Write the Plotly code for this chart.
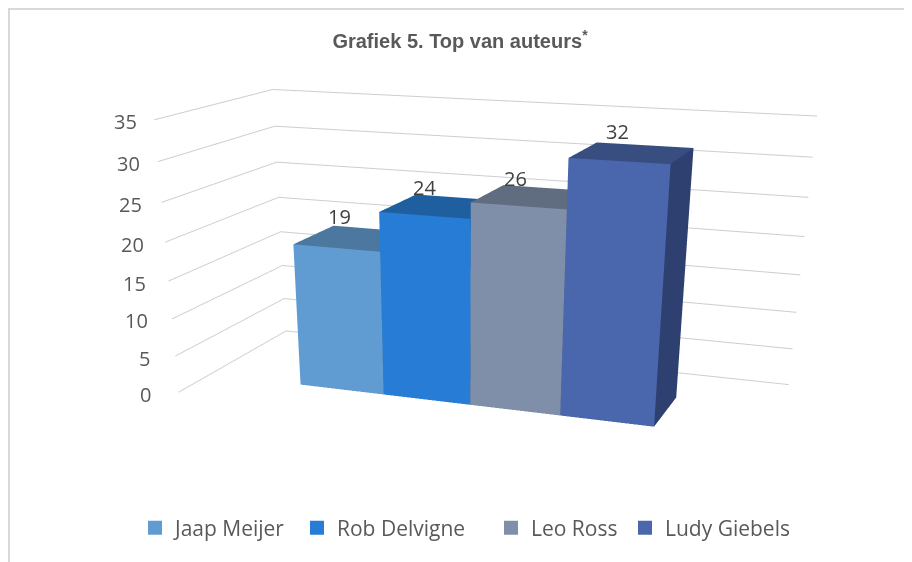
import plotly.graph_objects as go

title = "Grafiek 5. Top van auteurs<sup>*</sup>"
authors = ["Jaap Meijer", "Rob Delvigne", "Leo Ross", "Ludy Giebels"]
values = [19, 24, 26, 32]
ticks = [0, 5, 10, 15, 20, 25, 30, 35]
front_colors = ["#609CD2", "#277DD5", "#7F8FA9", "#4A66AD"]
top_colors = ["#4C78A0", "#1F5FA0", "#606C80", "#384D80"]
side_colors = ["#3F6A90", "#1A5490", "#525D70", "#2E4070"]
label_offset = [0.07, 0.10, 0.13, 0.22]
label_yshift = [10, 8, 7, 12]
legend_x = [135, 297, 491, 625]

# page layout: the figure is taller than the window so that the 3D view has a long focal length
Wt, Ht = 904, 1200
# scene calibration
bar_start, bar_width = 0.1819, 0.1615
depth_front, depth_back = 0.2729, 0.6599
x_range = [-bar_start / bar_width, (1 - bar_start) / bar_width]
y_range = [0, 1]
z_range = [0, 35]

fig = go.Figure()
legend_names = ["legend2", "legend3", "legend4", "legend5"]
for i, v in enumerate(values):
    x0, x1 = i, i + 1
    y0, y1 = depth_front, depth_back
    xs = [x0, x1, x1, x0, x0, x1, x1, x0]
    ys = [y0, y0, y1, y1, y0, y0, y1, y1]
    zs = [0, 0, 0, 0, v, v, v, v]
    faces = [
        (0, 1, 5, front_colors[i]), (0, 5, 4, front_colors[i]),
        (4, 5, 6, top_colors[i]), (4, 6, 7, top_colors[i]),
        (1, 2, 6, side_colors[i]), (1, 6, 5, side_colors[i]),
    ]
    fig.add_trace(go.Mesh3d(
        x=xs, y=ys, z=zs,
        i=[f[0] for f in faces], j=[f[1] for f in faces], k=[f[2] for f in faces],
        facecolor=[f[3] for f in faces], flatshading=True,
        lighting=dict(ambient=1, diffuse=0, specular=0, fresnel=0, roughness=1),
        hoverinfo="skip", showlegend=False, showscale=False,
    ))
    fig.add_trace(go.Scatter(
        x=[None], y=[None], mode="markers", name=authors[i], legend=legend_names[i],
        marker=dict(symbol="square", size=14, color=front_colors[i]),
    ))

annotations = []
for t in ticks:
    annotations.append(dict(x=x_range[0], y=0, z=t, text=str(t), showarrow=False,
                            xanchor="right", xshift=-20 + (t - 17.5) * 0.3, yshift=-2,
                            font=dict(family="Open Sans", size=20, color="#595959")))
for i, v in enumerate(values):
    annotations.append(dict(x=i + label_offset[i], y=depth_back, z=v, text=str(v),
                            showarrow=False, yshift=label_yshift[i],
                            font=dict(family="Open Sans", size=20, color="#404040")))

hidden = dict(showgrid=False, showline=False, zeroline=False, showticklabels=False,
              showbackground=False, showspikes=False, ticks="", title="")

legends = {}
for name, lx in zip(legend_names, legend_x):
    legends[name] = dict(orientation="h", x=(lx - 8) / Wt, xanchor="left", y=1 - (528 - 8) / Ht,
                         yanchor="middle", bgcolor="rgba(0,0,0,0)", itemclick=False,
                         font=dict(family="Open Sans", size=21, color="#595959"))

fig.update_layout(
    width=Wt, height=Ht, margin=dict(l=0, r=0, t=0, b=0), showlegend=True,
    paper_bgcolor="white", plot_bgcolor="rgba(0,0,0,0)",
    xaxis=dict(visible=False), yaxis=dict(visible=False),
    title=dict(text=title, x=0.5, xanchor="center", y=1 - 33 / Ht, yanchor="middle",
               font=dict(family="Liberation Sans", size=20, color="#595959", weight="bold")),
    scene=dict(
        domain=dict(x=[0, 1], y=[0, 1]),
        xaxis=dict(hidden, range=x_range),
        yaxis=dict(hidden, range=y_range),
        zaxis=dict(showgrid=True, gridcolor="#CDCDCD", gridwidth=2, showline=False, zeroline=False,
                   showticklabels=False, showbackground=False, showspikes=False, ticks="", title="",
                   range=z_range, tickvals=ticks),
        aspectmode="manual", aspectratio=dict(x=2.1787, y=0.9152, z=1),
        camera=dict(eye=dict(x=1.7919, y=-5.0877, z=1.2359),
                    center=dict(x=1.0718, y=-3.1587, z=0.2110),
                    up=dict(x=0, y=0, z=1)),
        annotations=annotations,
    ),
    shapes=[
        dict(type="line", xref="paper", yref="paper", x0=0, x1=1, y0=1 - 1 / Ht, y1=1 - 1 / Ht,
             line=dict(color="#D9D9D9", width=2)),
        dict(type="line", xref="paper", yref="paper", x0=1 / Wt, x1=1 / Wt, y0=0, y1=1,
             line=dict(color="#D9D9D9", width=2)),
    ],
    **legends,
)
fig.write_html("out.html")
